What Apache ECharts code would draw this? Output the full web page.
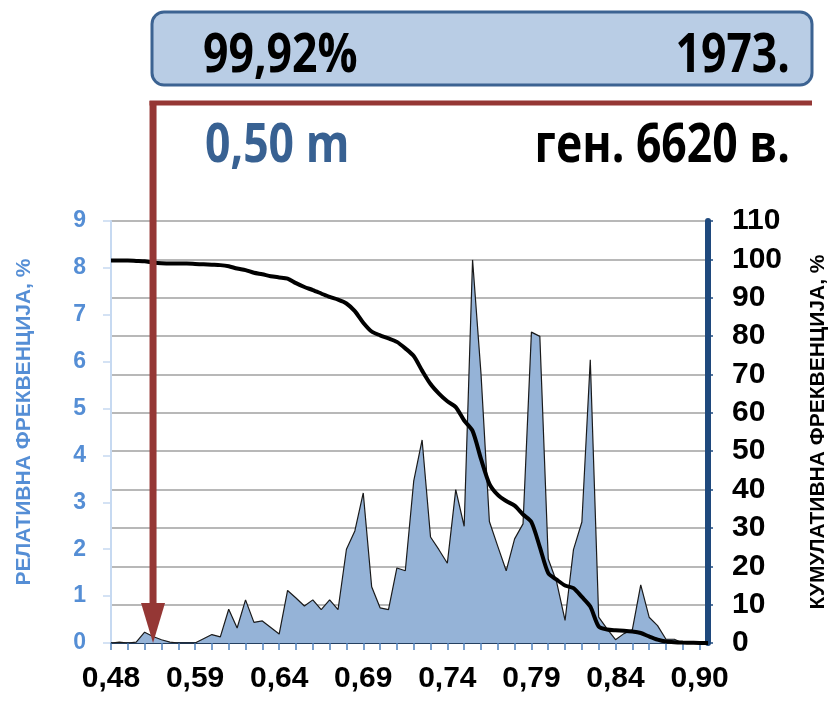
<!DOCTYPE html>
<html>
<head>
<meta charset="utf-8">
<script src="https://cdn.jsdelivr.net/npm/echarts@6/dist/echarts.min.js"></script>
<style>
html,body{margin:0;padding:0;background:#fff;}
#chart{width:831px;height:702px;}
</style>
</head>
<body>
<div id="chart"></div>
<script>
// ---- data ----
const categories = ["0,480","0,484","0,488","0,492","0,496","0,500","0,518","0,536","0,554","0,572",
  "0,590","0,595","0,600","0,605","0,610","0,615","0,620","0,625","0,630","0,635",
  "0,640","0,645","0,650","0,655","0,660","0,665","0,670","0,675","0,680","0,685",
  "0,690","0,695","0,700","0,705","0,710","0,715","0,720","0,725","0,730","0,735",
  "0,740","0,745","0,750","0,755","0,760","0,765","0,770","0,775","0,780","0,785",
  "0,790","0,795","0,800","0,805","0,810","0,815","0,820","0,825","0,830","0,835",
  "0,840","0,846","0,852","0,858","0,864","0,870","0,876","0,882","0,888","0,894",
  "0,900","0,906"];

const relFreq = [0,0.02,0,0.02,0.23,0.14,0.07,0.02,0,0,
  0,0.09,0.18,0.13,0.72,0.32,0.92,0.44,0.47,0.33,
  0.19,1.12,0.96,0.79,0.92,0.71,0.92,0.71,2.0,2.39,
  3.2,1.2,0.75,0.71,1.6,1.54,3.45,4.33,2.26,1.99,
  1.70,3.27,2.49,8.17,5.75,2.59,2.06,1.54,2.22,2.54,
  6.63,6.54,1.79,1.3,0.48,1.99,2.58,6.04,0.55,0.3,
  0.07,0.2,0.28,1.24,0.55,0.37,0.08,0.08,0,0,
  0,0];

const cumFreq = [99.7,99.7,99.7,99.6,99.5,99.2,99.0,98.9,98.9,98.9,
  98.8,98.7,98.6,98.5,98.2,97.6,97.2,96.5,96.1,95.6,
  95.3,95.0,93.8,92.8,92.0,91.1,90.2,89.5,88.5,86.5,
  83.5,81.2,80.2,79.4,78.5,76.8,74.8,71.0,67.5,65.0,
  63.0,61.5,58.0,55.3,48.0,41.5,38.6,37.0,35.8,33.5,
  31.5,25.0,18.2,16.5,15.0,14.3,12.0,9.5,4.3,3.5,
  3.3,3.2,3.0,2.6,1.7,0.9,0.4,0.2,0.1,0.05,
  0,0];

const leftTicks = [0,1,2,3,4,5,6,7,8,9];
const rightTicks = [0,10,20,30,40,50,60,70,80,90,100,110];

const leftTitle = "РЕЛАТИВНА ФРЕКВЕНЦИЈА, %";
const rightTitle = "КУМУЛАТИВНА ФРЕКВЕНЦИЈА, %";
const boxLeftText = "99,92%";
const boxRightText = "1973.";
const depthText = "0,50 m";
const genText = "ген. 6620 в.";
const arrowCategory = "0,500";

// ---- chart ----
const chart = echarts.init(document.getElementById('chart'), null, {renderer: 'canvas'});
const axisFont = 'Liberation Sans, Arial, sans-serif';

chart.setOption({
  animation: false,
  backgroundColor: '#ffffff',
  grid: {left: 111, right: 123, top: 221, bottom: 59, containLabel: false},
  xAxis: {
    type: 'category',
    data: categories,
    boundaryGap: false,
    axisLine: {show: true, onZero: false, lineStyle: {color: '#243f60', width: 2}},
    axisTick: {show: true, interval: 1, length: 7, lineStyle: {color: '#4f81bd', width: 1.5}},
    axisLabel: {
      interval: 9, margin: 21, fontSize: 30, fontWeight: 'bold', color: '#000',
      fontFamily: axisFont,
      formatter: v => v.slice(0, 4)
    },
    splitLine: {show: false}
  },
  yAxis: [
    {
      type: 'value', position: 'left', min: leftTicks[0], max: leftTicks[leftTicks.length - 1], interval: 1,
      axisLine: {show: true, lineStyle: {color: '#c6d9f1', width: 2}},
      axisTick: {show: true, length: 8, lineStyle: {color: '#c6d9f1', width: 1.5}},
      axisLabel: {margin: 25, fontSize: 23, fontWeight: 'bold', color: '#558ed5', fontFamily: axisFont},
      splitLine: {show: false}
    },
    {
      type: 'value', position: 'right', min: rightTicks[0], max: rightTicks[rightTicks.length - 1], interval: 10,
      axisLine: {show: true, lineStyle: {color: '#1f497d', width: 6}},
      axisTick: {show: true, length: 5, lineStyle: {color: '#1f497d', width: 1.5}},
      axisLabel: {margin: 24, fontSize: 30, fontWeight: 'bold', color: '#000', fontFamily: axisFont},
      splitLine: {show: true, lineStyle: {color: '#a0a0a0', width: 1.6}}
    }
  ],
  series: [
    {
      name: 'rel', type: 'line', yAxisIndex: 0, data: relFreq,
      symbol: 'none', smooth: false,
      lineStyle: {color: '#1a1a1a', width: 1.2},
      areaStyle: {color: '#95b3d7', opacity: 1},
      z: 2
    },
    {
      name: 'cum', type: 'line', yAxisIndex: 1, data: cumFreq,
      symbol: 'none', smooth: 0.25,
      lineStyle: {color: '#000', width: 4},
      z: 3
    }
  ]
});

const ax = chart.convertToPixel({xAxisIndex: 0}, arrowCategory);
const y0 = chart.convertToPixel({yAxisIndex: 0}, 0);
const red = '#953735';
const topFont = '"Open Sans", "Noto Sans", sans-serif';
const sx = 0.84;

chart.setOption({
  graphic: [
    {type: 'rect', z: 10, shape: {x: 152, y: 12, width: 660, height: 73, r: 12},
     style: {fill: '#b9cde5', stroke: '#3c6392', lineWidth: 3}},
    {type: 'text', z: 11, x: 203, y: 57, scaleX: sx,
     style: {text: boxLeftText, fill: '#000', font: 'bold 53px ' + topFont, align: 'left', verticalAlign: 'middle'}},
    {type: 'text', z: 11, x: 790, y: 57, scaleX: sx,
     style: {text: boxRightText, fill: '#000', font: 'bold 53px ' + topFont, align: 'right', verticalAlign: 'middle'}},
    {type: 'text', z: 11, x: 205, y: 147, scaleX: sx,
     style: {text: depthText, fill: '#386192', font: 'bold 53px ' + topFont, align: 'left', verticalAlign: 'middle'}},
    {type: 'text', z: 11, x: 790, y: 147, scaleX: sx,
     style: {text: genText, fill: '#000', font: 'bold 53px ' + topFont, align: 'right', verticalAlign: 'middle'}},
    {type: 'line', z: 12, shape: {x1: ax - 3.5, y1: 103, x2: 812, y2: 103},
     style: {stroke: red, lineWidth: 5}},
    {type: 'line', z: 12, shape: {x1: ax, y1: 101, x2: ax, y2: 606},
     style: {stroke: red, lineWidth: 7}},
    {type: 'polygon', z: 12, shape: {points: [[ax - 12, 603], [ax + 12, 603], [ax, y0]]},
     style: {fill: red}},
    {type: 'text', z: 11, x: 24, y: 422, rotation: Math.PI / 2,
     style: {text: leftTitle, fill: '#558ed5', font: 'bold 21px ' + axisFont, align: 'center', verticalAlign: 'middle'}},
    {type: 'text', z: 11, x: 818, y: 432, rotation: Math.PI / 2,
     style: {text: rightTitle, fill: '#000', font: 'bold 21px ' + axisFont, align: 'center', verticalAlign: 'middle'}}
  ]
});
</script>
</body>
</html>
